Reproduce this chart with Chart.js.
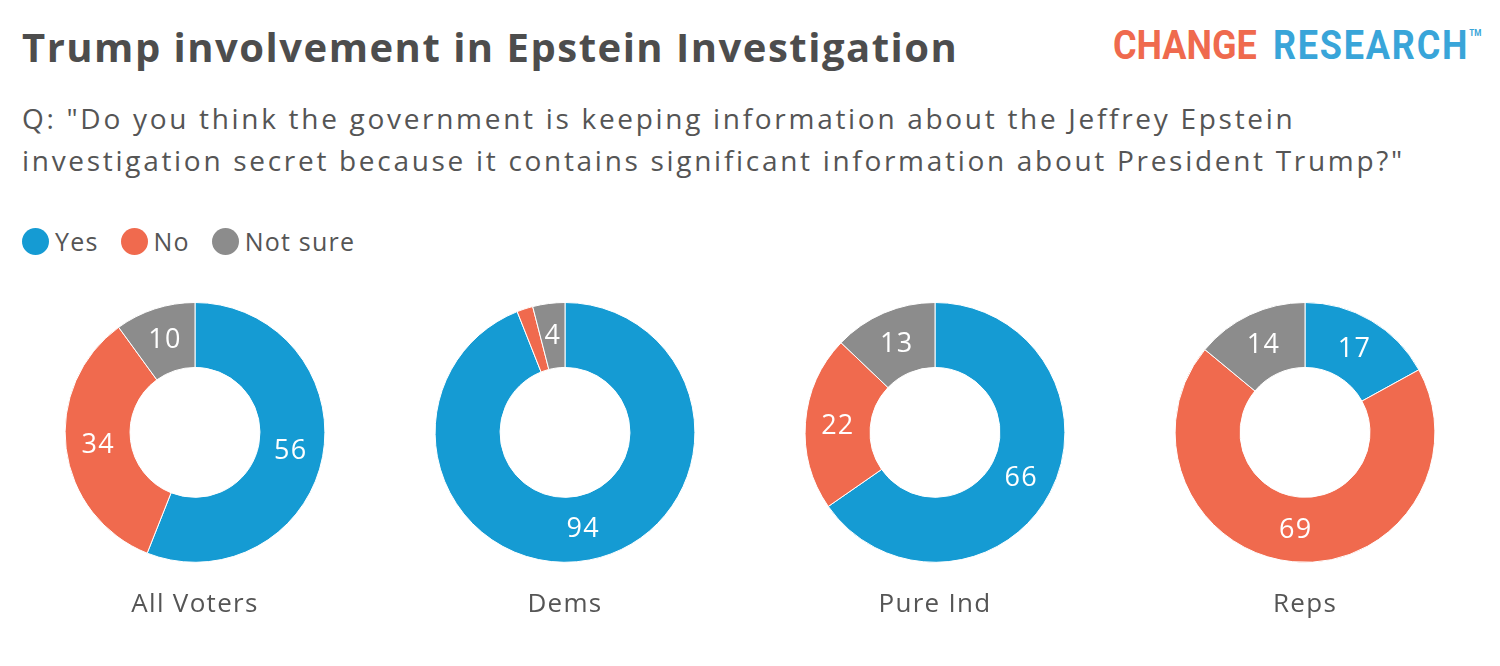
<!DOCTYPE html>
<html>
<head>
<meta charset="utf-8">
<script src="https://cdn.jsdelivr.net/npm/chart.js@4/dist/chart.umd.min.js"></script>
<style>
  html, body { margin: 0; padding: 0; background: #fff; }
  body { width: 1500px; height: 666px; position: relative; overflow: hidden; font-family: "Open Sans", sans-serif; color: #555; }
  h1 { position: absolute; left: 22px; top: 19px; margin: 0; font-size: 40px; font-weight: 700; color: #4d4d4d; white-space: nowrap; letter-spacing: 1.5px; }
  .sub { position: absolute; left: 22px; top: 97px; margin: 0; font-size: 28px; line-height: 42px; color: #555; white-space: nowrap; letter-spacing: 2.7px; }
  .logo { position: absolute; left: 1113px; top: 22px; font-family: Roboto, sans-serif; font-weight: 700; font-size: 40px; transform-origin: left top; transform: scaleX(0.9); white-space: nowrap; }
  .logo .c { color: #ef6a4e; }
  .logo .r { color: #39a5d9; margin-left: 18px; letter-spacing: 2px; }
  .logo sup { font-size: 9px; color: #39a5d9; vertical-align: top; position: relative; top: 6px; }
  #legend { position: absolute; left: 22px; top: 224px; display: flex; align-items: center; font-size: 25px; color: #555; letter-spacing: 1.2px; }
  #legend span.dot { width: 27px; height: 27px; border-radius: 50%; display: inline-block; margin-right: 6px; }
  #legend span.item { display: flex; align-items: center; margin-right: 22px; }
  canvas { position: absolute; }
</style>
</head>
<body>
<h1>Trump involvement in Epstein Investigation</h1>
<p class="sub">Q: "Do you think the government is keeping information about the Jeffrey Epstein<br>investigation secret because it contains significant information about President Trump?"</p>
<div class="logo"><span class="c">CHANGE</span><span class="r">RESEARCH</span><sup>TM</sup></div>
<div id="legend"></div>

<canvas id="c0" width="300" height="322" style="left:45px;top:302px"></canvas>
<canvas id="c1" width="300" height="322" style="left:415px;top:302px"></canvas>
<canvas id="c2" width="300" height="322" style="left:785px;top:302px"></canvas>
<canvas id="c3" width="300" height="322" style="left:1155px;top:302px"></canvas>

<script>
const groups = ["All Voters", "Dems", "Pure Ind", "Reps"];
const answers = ["Yes", "No", "Not sure"];
const yesVals = [56, 94, 66, 17];
const noVals = [34, 2, 22, 69];
const notSureVals = [10, 4, 13, 14];
const colors = ["#159bd3", "#f06a4e", "#8c8c8c"];

// legend
const legend = document.getElementById("legend");
answers.forEach((a, i) => {
  const item = document.createElement("span");
  item.className = "item";
  item.innerHTML = '<span class="dot" style="background:' + colors[i] + '"></span>' + a;
  legend.appendChild(item);
});

// wider text spacing, closer to the original typeface
const spacing = {
  id: "spacing",
  beforeDraw(chart) { chart.ctx.letterSpacing = "1.3px"; }
};

// values written inside the slices
const sliceLabels = {
  id: "sliceLabels",
  afterDatasetsDraw(chart) {
    const ctx = chart.ctx;
    const ds = chart.data.datasets[0];
    chart.getDatasetMeta(0).data.forEach((arc, i) => {
      const v = ds.data[i];
      if (v < 3) return;
      const p = arc.tooltipPosition();
      ctx.save();
      ctx.fillStyle = "#fff";
      ctx.font = "27px 'Open Sans', sans-serif";
      ctx.textAlign = "center";
      ctx.textBaseline = "middle";
      ctx.fillText(String(v), p.x, p.y + 1);
      ctx.restore();
    });
  }
};

groups.forEach((g, i) => {
  const canvas = document.getElementById("c" + i);
  new Chart(canvas.getContext("2d"), {
    type: "doughnut",
    data: {
      labels: answers,
      datasets: [{
        data: [yesVals[i], noVals[i], notSureVals[i]],
        backgroundColor: colors,
        borderColor: "#fff",
        borderWidth: 1
      }]
    },
    options: {
      responsive: false,
      animation: false,
      cutout: "50%",
      layout: { padding: 0 },
      plugins: {
        legend: { display: false },
        tooltip: { enabled: false },
        title: {
          display: true,
          text: g,
          position: "bottom",
          color: "#555",
          font: { family: "'Open Sans', sans-serif", size: 26, weight: "normal", lineHeight: 1.2 },
          padding: { top: 26, bottom: 4 }
        }
      }
    },
    plugins: [spacing, sliceLabels]
  });
});
</script>
</body>
</html>
